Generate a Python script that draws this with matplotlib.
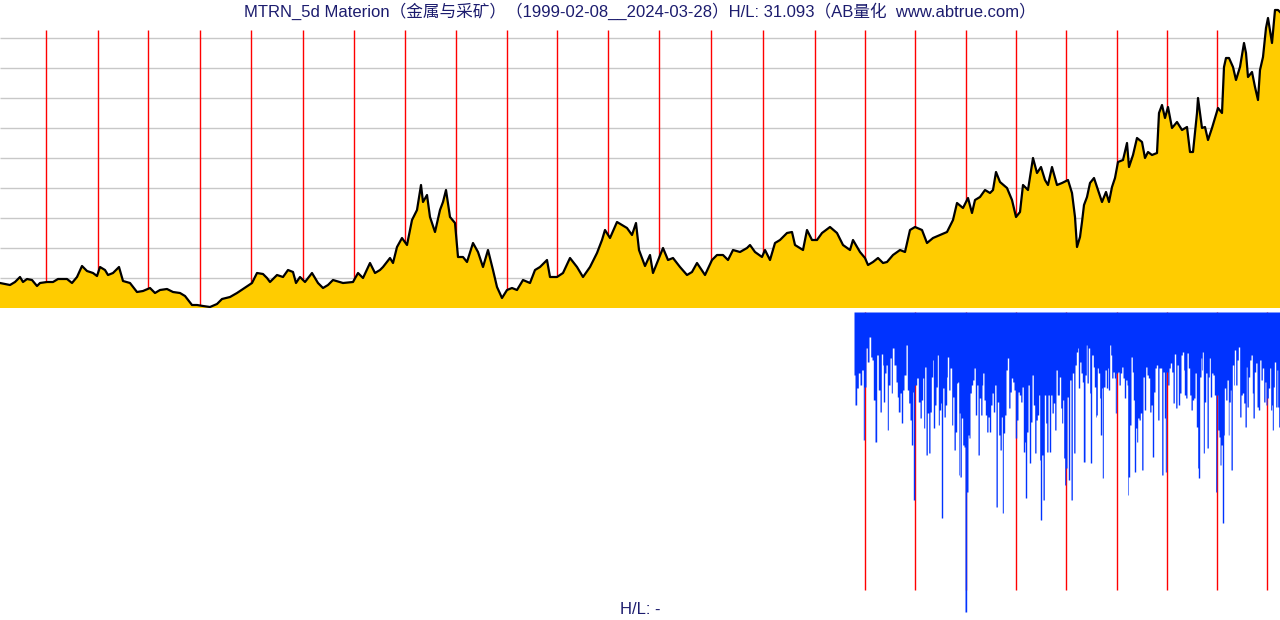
import numpy as np
import matplotlib
matplotlib.use("Agg")
import matplotlib.pyplot as plt

# ---------------- data ----------------
title_text = "MTRN_5d Materion（金属与采矿）（1999-02-08__2024-03-28）H/L: 31.093（AB量化  www.abtrue.com）"
bottom_text = "H/L: -"

# weekly bar index (x) and close level (chart units)
price_x = [0, 10, 15, 20, 23, 27, 32, 37, 40, 47, 53, 58, 67, 72, 77, 82, 87, 93, 97, 100,
           105, 108, 113, 119, 123, 130, 137, 143, 150, 155, 160, 167, 173, 180, 185, 192, 197, 203, 210, 217,
           222, 230, 237, 243, 252, 257, 263, 267, 270, 277, 283, 288, 293, 296, 300, 305, 312, 318, 323, 328,
           333, 343, 353, 358, 363, 370, 375, 380, 383, 390, 393, 397, 402, 407, 412, 417, 421, 423, 427, 430,
           435, 440, 443, 446, 450, 455, 458, 463, 467, 473, 478, 483, 488, 493, 497, 502, 507, 512, 517, 523,
           530, 535, 540, 547, 550, 557, 563, 570, 577, 583, 590, 597, 602, 605, 610, 617, 622, 627, 632, 636,
           639, 645, 650, 653, 657, 663, 668, 673, 680, 687, 692, 697, 705, 712, 717, 723, 728, 733, 740, 747,
           750, 755, 762, 765, 770, 775, 780, 787, 792, 795, 803, 807, 812, 817, 822, 830, 837, 843, 850, 853,
           860, 865, 868, 873, 878, 883, 887, 893, 900, 905, 910, 915, 922, 927, 933, 940, 947, 953, 957, 963,
           968, 972, 975, 980, 985, 990, 993, 996, 1000, 1007, 1012, 1016, 1020, 1023, 1028, 1033, 1037, 1041, 1045, 1048,
           1052, 1057, 1062, 1068, 1072, 1075, 1077, 1080, 1082, 1084, 1087, 1090, 1094, 1097, 1102, 1106, 1109, 1112, 1115, 1118,
           1123, 1127, 1129, 1133, 1137, 1142, 1145, 1148, 1152, 1157, 1159, 1162, 1165, 1168, 1172, 1177, 1182, 1187, 1190, 1193,
           1197, 1198, 1202, 1205, 1208, 1212, 1215, 1218, 1222, 1224, 1226, 1229, 1233, 1236, 1240, 1244, 1246, 1248, 1252, 1255,
           1258, 1260, 1263, 1266, 1268, 1272, 1275, 1278, 1280]
close = [25, 23, 26, 31, 26, 29, 28, 22, 25, 26, 26, 29, 29, 25, 31, 42, 37, 35, 32, 41,
         38, 33, 35, 41, 27, 25, 16, 17, 20, 15, 18, 19, 16, 15, 12, 3, 3, 2, 1, 4,
         9, 11, 15, 19, 25, 35, 34, 30, 26, 33, 31, 38, 36, 25, 31, 26, 35, 25, 20, 23,
         28, 25, 26, 35, 30, 45, 35, 38, 41, 50, 45, 61, 70, 63, 88, 98, 123, 106, 113, 91,
         76, 98, 106, 118, 91, 85, 51, 51, 46, 65, 56, 41, 58, 38, 21, 10, 18, 20, 18, 28,
         25, 38, 41, 48, 31, 31, 35, 50, 41, 31, 41, 55, 68, 78, 70, 86, 83, 80, 73, 85,
         58, 42, 53, 35, 45, 60, 48, 50, 41, 33, 36, 45, 33, 48, 53, 53, 48, 58, 56, 60,
         63, 56, 51, 58, 48, 65, 68, 75, 76, 63, 58, 78, 68, 68, 75, 81, 75, 63, 58, 68,
         56, 50, 43, 46, 50, 45, 46, 53, 58, 56, 78, 81, 78, 65, 70, 73, 76, 88, 105, 100,
         110, 95, 108, 111, 118, 115, 118, 136, 126, 120, 108, 91, 96, 123, 118, 150, 135, 141, 128, 123,
         141, 123, 125, 128, 115, 91, 61, 71, 86, 103, 111, 125, 130, 121, 106, 116, 106, 121, 130, 146,
         148, 165, 141, 153, 170, 166, 150, 156, 153, 155, 195, 203, 190, 201, 180, 186, 178, 181, 156, 156,
         195, 210, 180, 181, 168, 180, 190, 200, 195, 241, 250, 250, 241, 228, 241, 265, 255, 231, 236, 221,
         208, 238, 251, 280, 290, 265, 298, 298, 296]

# first bar of each calendar year (2000 ... 2024)
year_x = [46, 98, 148, 200, 251, 303, 354, 405, 456, 507, 557, 608, 659, 711, 763,
          815, 865, 915, 966, 1016, 1066, 1117, 1167, 1217, 1267]
grid_levels = [30, 60, 90, 120, 150, 180, 210, 240, 270]

# lower panel: bars hanging from the top (bar index, depth in chart units)
flow_x = [854.0, 855.0, 856.7, 858.3, 860.0, 861.7, 863.3, 864.3, 866.0, 867.3,
          869.0, 870.7, 872.0, 873.3, 875.0, 876.7, 878.3, 880.0, 881.3, 882.7,
          883.3, 884.7, 886.0, 887.3, 888.3, 890.0, 891.3, 892.3, 894.0, 896.0,
          897.3, 898.3, 900.0, 901.3, 902.7, 904.0, 906.0, 907.3, 908.7, 910.0,
          911.3, 912.7, 913.3, 914.7, 916.7, 918.3, 920.0, 921.3, 922.7, 923.7,
          924.7, 926.0, 927.3, 928.7, 930.0, 931.3, 932.7, 933.3, 934.7, 936.0,
          937.3, 938.3, 939.3, 940.7, 941.3, 942.7, 944.0, 945.3, 946.7, 947.3,
          948.7, 950.0, 951.7, 952.7, 954.0, 955.3, 956.7, 957.7, 958.7, 959.3,
          960.0, 961.3, 962.7, 964.0, 965.0, 966.7, 968.0, 969.0, 970.0, 971.3,
          972.7, 974.0, 975.3, 976.7, 978.0, 979.3, 980.7, 982.0, 982.7, 984.0,
          985.3, 986.7, 988.0, 989.3, 990.7, 992.0, 993.3, 994.7, 996.0, 997.3,
          998.7, 1000.0, 1001.3, 1002.3, 1003.3, 1004.7, 1006.0, 1007.3, 1008.7, 1010.0,
          1011.3, 1012.7, 1014.0, 1015.3, 1016.7, 1018.0, 1019.3, 1020.7, 1022.0, 1023.3,
          1024.7, 1025.3, 1026.7, 1028.0, 1029.3, 1030.7, 1032.0, 1033.3, 1034.7, 1036.0,
          1037.3, 1038.7, 1039.7, 1040.3, 1041.7, 1043.0, 1044.3, 1045.7, 1046.7, 1048.0,
          1049.3, 1050.7, 1052.0, 1053.3, 1054.7, 1056.0, 1057.3, 1059.3, 1060.7, 1061.7,
          1062.7, 1063.7, 1064.7,
          1065.7, 1067.0, 1068.3, 1069.7, 1071.0, 1072.3, 1073.7, 1075.0, 1076.3, 1077.7,
          1078.3, 1079.7, 1081.0, 1082.3, 1083.3, 1085.0, 1086.3, 1087.0, 1088.3, 1089.7,
          1090.3, 1091.7, 1093.3, 1094.3, 1095.7, 1096.3, 1097.3, 1098.3, 1099.7, 1100.3,
          1101.7, 1102.3, 1103.3, 1105.0, 1106.3, 1107.7, 1108.3, 1109.7, 1110.7, 1111.7,
          1113.0, 1114.3, 1115.3, 1116.3, 1117.7, 1119.0, 1120.3, 1121.7, 1123.0, 1124.3,
          1125.7, 1127.0, 1127.7, 1128.3, 1129.7, 1131.0, 1132.3, 1133.3, 1134.3, 1135.7,
          1136.7, 1137.7, 1139.0, 1140.3, 1141.7, 1143.0, 1144.3, 1145.7, 1147.0, 1148.3,
          1149.7, 1151.0, 1152.3, 1153.7, 1155.0, 1156.3, 1157.7, 1159.0, 1160.3, 1161.7,
          1163.0, 1164.3, 1165.3, 1166.3, 1167.7, 1169.0, 1170.3, 1171.7, 1173.0, 1174.3,
          1175.7, 1177.0, 1178.3, 1179.7, 1181.0, 1182.3, 1183.7, 1184.3, 1185.7, 1187.0,
          1188.3, 1189.7, 1191.0, 1192.3, 1193.7, 1195.0, 1196.3, 1197.7, 1198.3, 1199.7,
          1201.0, 1201.7, 1202.3, 1203.3, 1204.3, 1205.7, 1207.0, 1208.3, 1209.3, 1210.3,
          1211.7, 1213.0, 1214.3, 1215.7, 1216.7, 1217.7, 1219.0, 1220.0, 1221.0, 1222.3,
          1223.7, 1224.3, 1225.7, 1227.0, 1228.3, 1229.0, 1230.3, 1231.0, 1232.3, 1233.7,
          1234.3, 1235.7, 1237.0, 1238.3, 1239.7, 1241.0, 1242.3, 1243.7, 1245.0, 1246.3,
          1247.0, 1248.3, 1249.7, 1251.0, 1252.3, 1253.0, 1254.3, 1255.7, 1257.0, 1258.3,
          1259.7, 1261.0, 1262.3, 1263.7, 1265.0, 1266.0, 1267.0, 1268.3, 1269.7, 1270.7,
          1271.7, 1272.3, 1273.3, 1274.3, 1275.7, 1277.0, 1277.7, 1278.7, 1279.7]
flow_depth = [63, 93, 76, 61, 73, 58, 128, 75, 36, 50, 25, 45, 48, 88, 130, 43, 78, 100, 42, 53,
              90, 61, 53, 118, 73, 46, 81, 36, 53, 70, 85, 100, 81, 111, 78, 63, 33, 78, 91, 108,
              133, 80, 188, 73, 66, 90, 106, 88, 66, 116, 55, 143, 101, 141, 100, 65, 48, 116, 93, 75,
              43, 113, 98, 91, 206, 76, 105, 93, 65, 45, 78, 56, 113, 85, 138, 120, 71, 70, 163, 101,
              165, 106, 133, 135, 300, 180, 123, 126, 81, 73, 68, 56, 103, 73, 143, 86, 103, 73, 61, 88,
              103, 120, 105, 120, 93, 81, 100, 73, 195, 90, 123, 138, 105, 201, 121, 103, 58, 46, 96, 80,
              66, 70, 78, 126, 108, 80, 83, 90, 75, 140, 130, 186, 120, 73, 151, 110, 63, 93, 141, 108,
              103, 83, 148, 208, 143, 188, 83, 111, 140, 83, 140, 83, 101, 91, 118, 58, 83, 65, 96, 111,
              88, 146, 173,
              156, 85, 168, 68, 188, 61, 141, 53, 40, 36, 76, 50, 61, 70, 150, 63, 33, 71, 36, 81,
              151, 43, 55, 75, 105, 103, 56, 61, 86, 123, 76, 166, 75, 58, 76, 56, 78, 33, 43, 66,
              60, 66, 101, 61, 60, 73, 61, 55, 66, 86, 68, 73, 183, 165, 113, 45, 60, 88, 160, 116,
              130, 106, 108, 101, 158, 65, 98, 55, 63, 66, 100, 93, 145, 80, 56, 53, 108, 56, 56, 163,
              60, 106, 160, 60, 73, 56, 51, 60, 91, 42, 96, 53, 93, 81, 43, 40, 58, 83, 86, 41,
              56, 83, 98, 88, 86, 61, 115, 156, 166, 65, 46, 58, 40, 141, 90, 61, 136, 65, 46, 85,
              61, 63, 83, 180, 83, 118, 125, 153, 133, 211, 123, 76, 88, 68, 123, 90, 78, 158, 53, 73,
              38, 73, 48, 35, 105, 83, 81, 91, 115, 55, 95, 65, 48, 43, 81, 106, 60, 51, 95, 98,
              48, 68, 56, 90, 70, 93, 86, 76, 56, 98, 93, 118, 75, 50, 95, 58, 95, 115, 106]
lower_year_x = [865, 915, 966, 1016, 1066, 1117, 1167, 1217, 1267]

# ---------------- styling ----------------
FILL = "#ffcc00"
BLUE = "#0033ff"
NAVY = "#1c1c6e"
GRID = "#c8c8c8"
FONT = ["Liberation Sans", "Noto Sans CJK SC"]

W, H = 1280, 620
fig = plt.figure(figsize=(W / 100, H / 100), dpi=100)
fig.patch.set_facecolor("white")

# upper panel: figure pixels y 0..308
ax1 = fig.add_axes([0, (H - 308) / H, 1, 308 / H])
ax1.set_xlim(0, 1280)
ax1.set_ylim(0, 308)
ax1.axis("off")
ax1.hlines(grid_levels, 0, 1280, color=GRID, lw=1, zorder=1)
ax1.vlines(year_x, 0, 278, color="red", lw=1, zorder=1.5)
ax1.fill_between(price_x, close, 0, color=FILL, lw=0, zorder=2)
ax1.plot(price_x, close, color="black", lw=1.6, zorder=3)

# lower panel: figure pixels y 312..620
ax2 = fig.add_axes([0, 0, 1, (H - 312) / H])
ax2.set_xlim(0, 1280)
ax2.set_ylim(308, 0)
ax2.axis("off")
ax2.vlines(lower_year_x, 0, 278, color="red", lw=1, zorder=1)
ax2.fill_between(flow_x, flow_depth, 0, step="post", color=BLUE, lw=0, zorder=2)

fig.text(0.5, 1 - 11 / H, title_text, ha="center", va="center", color=NAVY,
         fontsize=12, family=FONT)
fig.text(0.5, 1 - 610 / H, bottom_text, ha="center", va="center", color=NAVY,
         fontsize=12, family=FONT)

fig.savefig("out.png", dpi=100, facecolor="white")
